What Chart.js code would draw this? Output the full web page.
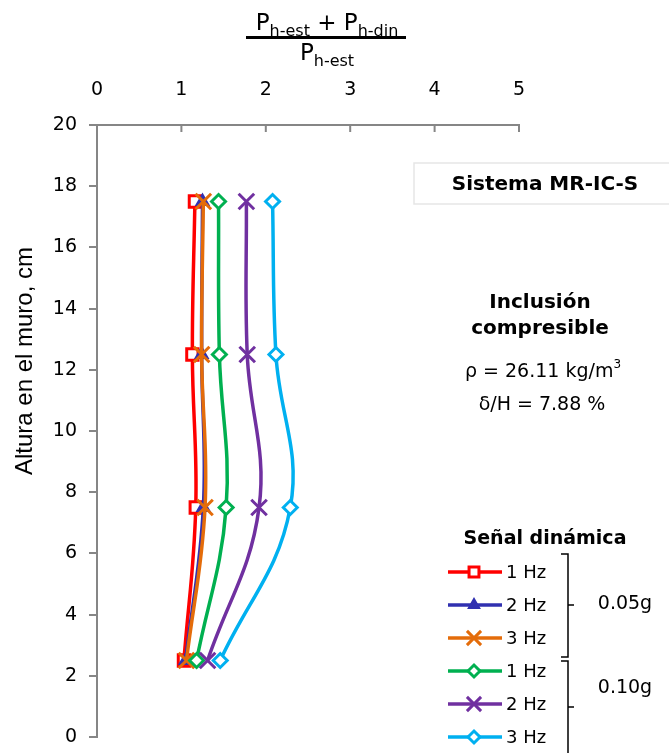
<!DOCTYPE html>
<html>
<head>
<meta charset="utf-8">
<script src="https://cdn.jsdelivr.net/npm/chart.js@4/dist/chart.umd.min.js"></script>
<style>
  html, body { margin: 0; padding: 0; background: #ffffff; }
  #wrap { position: relative; width: 669px; height: 753px; }
</style>
</head>
<body>
<div id="wrap"><canvas id="c" width="669" height="753"></canvas></div>
<script>
// Heights (cm) where pressures were measured
const heights = [2.5, 7.5, 12.5, 17.5];
// Ratio (Ph-est + Ph-din)/Ph-est for each signal
const a005_1Hz = [1.03, 1.17, 1.13, 1.16];
const a005_2Hz = [1.05, 1.26, 1.24, 1.25];
const a005_3Hz = [1.06, 1.28, 1.24, 1.26];
const a010_1Hz = [1.18, 1.53, 1.45, 1.44];
const a010_2Hz = [1.31, 1.92, 1.78, 1.77];
const a010_3Hz = [1.46, 2.29, 2.12, 2.08];
const seriesLabels = ['1 Hz', '2 Hz', '3 Hz', '1 Hz', '2 Hz', '3 Hz'];
const groupLabels = ['0.05g', '0.10g'];
const xTicks = [0, 1, 2, 3, 4, 5];
const yTicks = [0, 2, 4, 6, 8, 10, 12, 14, 16, 18, 20];

const FONT = '"DejaVu Sans", sans-serif';

function pts(vals) { return vals.map((v, i) => ({ x: v, y: heights[i] })); }

const styles = [
  { color: '#FF0000', point: 'rect',     fill: '#FFFFFF', r: 8 },
  { color: '#3030B0', point: 'triangle', fill: '#3030B0', r: 6 },
  { color: '#E46C0A', point: 'crossRot', fill: '#E46C0A', r: 11 },
  { color: '#00B050', point: 'rectRot',  fill: '#FFFFFF', r: 7 },
  { color: '#7030A0', point: 'crossRot', fill: '#7030A0', r: 11 },
  { color: '#00B0F0', point: 'rectRot',  fill: '#FFFFFF', r: 7 }
];
const allVals = [a005_1Hz, a005_2Hz, a005_3Hz, a010_1Hz, a010_2Hz, a010_3Hz];

const datasets = allVals.map((v, i) => ({
  label: seriesLabels[i],
  data: pts(v),
  order: 6 - i,
  showLine: true,
  borderColor: styles[i].color,
  backgroundColor: styles[i].fill,
  borderWidth: 3.5,
  tension: 0.4,
  pointStyle: styles[i].point,
  pointRadius: styles[i].r,
  pointBorderWidth: 3,
  pointBorderColor: styles[i].color,
  pointBackgroundColor: styles[i].fill
}));

function drawSubText(ctx, parts, cx, baseY) {
  let total = 0;
  parts.forEach(p => { ctx.font = p.size + 'px ' + FONT; p.w = ctx.measureText(p.t).width; total += p.w; });
  let x = cx - total / 2;
  ctx.textAlign = 'left';
  ctx.textBaseline = 'alphabetic';
  parts.forEach(p => { ctx.font = p.size + 'px ' + FONT; ctx.fillText(p.t, x, baseY + p.dy); x += p.w; });
  return total;
}

const annot = {
  id: 'annot',
  afterDraw(chart) {
    const ctx = chart.ctx;
    const xs = chart.scales.x;
    ctx.save();
    // inward tick marks on top x-axis
    ctx.strokeStyle = '#868686';
    ctx.lineWidth = 2;
    xTicks.forEach(t => {
      if (t === 0) return;
      const px = xs.getPixelForValue(t);
      ctx.beginPath(); ctx.moveTo(px, chart.chartArea.top); ctx.lineTo(px, chart.chartArea.top + 7); ctx.stroke();
    });

    ctx.fillStyle = '#000';
    // Fraction title
    const cx = 327;
    drawSubText(ctx, [
      { t: 'P', size: 23, dy: 0 }, { t: 'h-est', size: 16, dy: 6 },
      { t: ' + P', size: 23, dy: 0 }, { t: 'h-din', size: 16, dy: 6 }
    ], cx, 30);
    ctx.fillRect(246, 36, 160, 3);
    drawSubText(ctx, [{ t: 'P', size: 23, dy: 0 }, { t: 'h-est', size: 16, dy: 6 }], cx, 60);

    // Y axis title
    ctx.save();
    ctx.translate(25, 361);
    ctx.rotate(-Math.PI / 2);
    ctx.font = '24px "Liberation Sans", Arial, sans-serif';
    ctx.textAlign = 'center';
    ctx.textBaseline = 'middle';
    ctx.fillText('Altura en el muro, cm', 0, 0);
    ctx.restore();

    // System box
    ctx.strokeStyle = '#E6E6E6';
    ctx.lineWidth = 1.5;
    ctx.strokeRect(414, 163, 270, 41);
    ctx.font = 'bold 20px ' + FONT;
    ctx.textAlign = 'center';
    ctx.textBaseline = 'middle';
    ctx.fillText('Sistema MR-IC-S', 545, 185);

    ctx.font = 'bold 20px ' + FONT;
    ctx.fillText('Inclusión', 540, 303);
    ctx.fillText('compresible', 540, 329);
    // rho line with superscript
    ctx.textBaseline = 'alphabetic';
    const rhoMain = 'ρ = 26.11 kg/m';
    ctx.font = '19px ' + FONT;
    const w1 = ctx.measureText(rhoMain).width;
    ctx.font = '12px ' + FONT;
    const w2 = ctx.measureText('3').width;
    let sx = 543 - (w1 + w2) / 2;
    ctx.textAlign = 'left';
    ctx.font = '19px ' + FONT;
    ctx.fillText(rhoMain, sx, 377);
    ctx.font = '12px ' + FONT;
    ctx.fillText('3', sx + w1, 368);
    ctx.font = '19px ' + FONT;
    ctx.textAlign = 'center';
    ctx.textBaseline = 'middle';
    ctx.fillText('δ/H = 7.88 %', 542, 405);

    // Legend
    ctx.font = 'bold 19px ' + FONT;
    ctx.fillText('Señal dinámica', 545, 539);
    const rowsY = [572, 605, 638, 671, 704, 737];
    const H = Chart.helpers;
    datasets.forEach((d, i) => {
      const y = rowsY[i];
      ctx.strokeStyle = d.borderColor;
      ctx.lineWidth = 3.5;
      ctx.beginPath(); ctx.moveTo(448, y); ctx.lineTo(502, y); ctx.stroke();
      ctx.lineWidth = 3;
      ctx.fillStyle = d.pointBackgroundColor;
      ctx.strokeStyle = d.borderColor;
      if (H && H.drawPoint) {
        H.drawPoint(ctx, { pointStyle: d.pointStyle, radius: d.pointRadius - 1, borderWidth: 3, rotation: 0 }, 474, y);
      }
      ctx.fillStyle = '#000';
      ctx.font = '18px ' + FONT;
      ctx.textAlign = 'left';
      ctx.textBaseline = 'middle';
      ctx.fillText(d.label, 506, y + 1);
    });

    // Brackets
    ctx.strokeStyle = '#000';
    ctx.lineWidth = 1.5;
    ctx.beginPath();
    ctx.moveTo(561, 554); ctx.lineTo(568, 554); ctx.lineTo(568, 657); ctx.lineTo(561, 657);
    ctx.moveTo(568, 605); ctx.lineTo(574, 605);
    ctx.moveTo(561, 661); ctx.lineTo(568, 661); ctx.lineTo(568, 753);
    ctx.moveTo(568, 707); ctx.lineTo(574, 707);
    ctx.stroke();
    ctx.fillStyle = '#000';
    ctx.font = '19px ' + FONT;
    ctx.textAlign = 'center';
    ctx.fillText(groupLabels[0], 625, 604);
    ctx.fillText(groupLabels[1], 625, 688);
    ctx.restore();
  }
};

new Chart(document.getElementById('c'), {
  type: 'scatter',
  data: { datasets },
  plugins: [annot],
  options: {
    responsive: false,
    animation: false,
    devicePixelRatio: 1,
    layout: { padding: { left: 0, top: 0, right: 150, bottom: 16 } },
    plugins: { legend: { display: false }, tooltip: { enabled: false } },
    scales: {
      x: {
        type: 'linear', position: 'top', min: 0, max: 5,
        afterFit(s) { s.height = 125; s.paddingLeft = 0; s.paddingRight = 0; },
        afterBuildTicks(s) { s.ticks = xTicks.map(v => ({ value: v })); },
        ticks: { font: { size: 19, family: FONT }, color: '#000', padding: 24 },
        grid: { display: false, drawOnChartArea: false, drawTicks: false },
        border: { display: true, color: '#868686', width: 2 }
      },
      y: {
        type: 'linear', min: 0, max: 20,
        afterFit(s) { s.width = 97; s.paddingTop = 0; s.paddingBottom = 0; },
        afterBuildTicks(s) { s.ticks = yTicks.map(v => ({ value: v })); },
        ticks: { font: { size: 19, family: FONT }, color: '#000', padding: 12 },
        grid: { drawOnChartArea: false, drawTicks: true, tickLength: 8, color: '#868686', lineWidth: 2 },
        border: { color: '#868686', width: 2 }
      }
    }
  }
});
</script>
</body>
</html>
